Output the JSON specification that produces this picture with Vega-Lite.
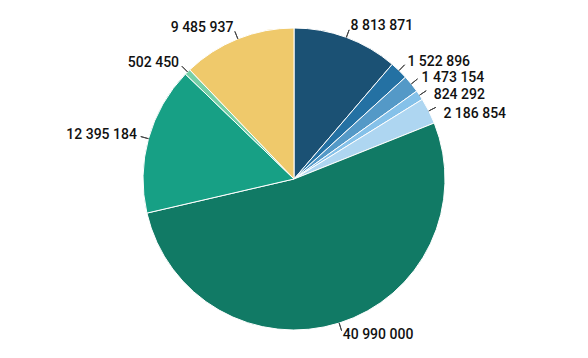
{
  "$schema": "https://vega.github.io/schema/vega-lite/v6.json",
  "width": 588,
  "height": 358,
  "padding": 0,
  "autosize": {"type": "fit", "contains": "padding"},
  "background": "white",
  "config": {"view": {"stroke": null}},
  "data": {
    "values": [
      {"order": 1, "label": "8 813 871", "value": 8813871},
      {"order": 2, "label": "1 522 896", "value": 1522896},
      {"order": 3, "label": "1 473 154", "value": 1473154},
      {"order": 4, "label": "824 292", "value": 824292},
      {"order": 5, "label": "2 186 854", "value": 2186854},
      {"order": 6, "label": "40 990 000", "value": 40990000},
      {"order": 7, "label": "12 395 184", "value": 12395184},
      {"order": 8, "label": "502 450", "value": 502450},
      {"order": 9, "label": "9 485 937", "value": 9485937}
    ]
  },
  "transform": [
    {"joinaggregate": [{"op": "sum", "field": "value", "as": "total"}]},
    {"window": [{"op": "sum", "field": "value", "as": "cum"}], "sort": [{"field": "order"}], "frame": [null, 0]},
    {"calculate": "(datum.cum - datum.value / 2) / datum.total * 2 * PI", "as": "mid"},
    {"window": [{"op": "lag", "field": "mid", "as": "p0"}], "sort": [{"field": "order"}]},
    {"calculate": "datum.p0 == null ? datum.mid : max(datum.mid, datum.p0 + 0.13)", "as": "a1"},
    {"window": [{"op": "lag", "field": "a1", "as": "p1"}], "sort": [{"field": "order"}]},
    {"calculate": "datum.p1 == null ? datum.mid : max(datum.mid, datum.p1 + 0.13)", "as": "a2"},
    {"window": [{"op": "lag", "field": "a2", "as": "p2"}], "sort": [{"field": "order"}]},
    {"calculate": "datum.p2 == null ? datum.mid : max(datum.mid, datum.p2 + 0.13)", "as": "labelAngle"}
  ],
  "layer": [
    {
      "mark": {"type": "arc", "outerRadius": 151, "stroke": "white", "strokeWidth": 1},
      "encoding": {
        "theta": {"field": "value", "type": "quantitative", "stack": true},
        "order": {"field": "order", "type": "quantitative"},
        "color": {
          "field": "order",
          "type": "nominal",
          "legend": null,
          "scale": {
            "domain": [1, 2, 3, 4, 5, 6, 7, 8, 9],
            "range": ["#1b5174", "#2471a3", "#5499c7", "#85c1e9", "#aed6f1", "#117a65", "#17a085", "#76cfa6", "#efc96b"]
          }
        }
      }
    },
    {
      "mark": {"type": "arc", "innerRadius": 151, "outerRadius": 159, "stroke": "#444", "strokeWidth": 1, "fill": null},
      "encoding": {
        "theta": {"field": "mid", "type": "quantitative", "scale": null, "stack": null},
        "theta2": {"field": "mid"}
      }
    },
    {
      "transform": [{"filter": "sin(datum.labelAngle) >= 0"}],
      "mark": {"type": "text", "radius": 163, "align": "left", "baseline": "middle", "font": "Roboto", "fontSize": 14, "fontWeight": 500, "color": "#111"},
      "encoding": {
        "theta": {"field": "labelAngle", "type": "quantitative", "scale": null, "stack": null},
        "text": {"field": "label"}
      }
    },
    {
      "transform": [{"filter": "sin(datum.labelAngle) < 0"}],
      "mark": {"type": "text", "radius": 163, "align": "right", "baseline": "middle", "font": "Roboto", "fontSize": 14, "fontWeight": 500, "color": "#111"},
      "encoding": {
        "theta": {"field": "labelAngle", "type": "quantitative", "scale": null, "stack": null},
        "text": {"field": "label"}
      }
    }
  ]
}
